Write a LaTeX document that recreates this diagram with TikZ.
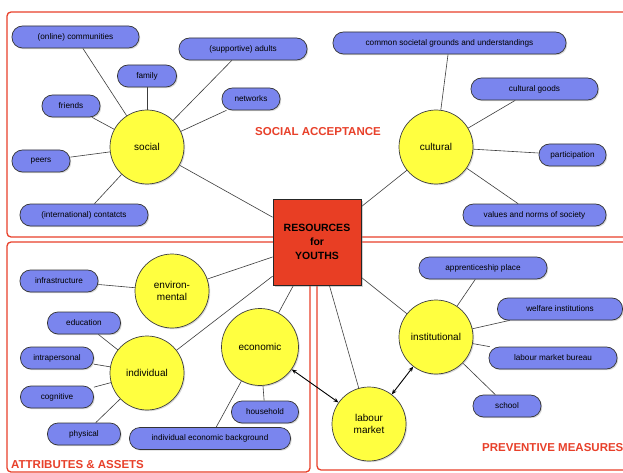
\documentclass[tikz,border=0pt]{standalone}
\usepackage{fontspec}
\setmainfont{Liberation Sans}
\usetikzlibrary{shadows,backgrounds,arrows.meta}
\definecolor{framered}{RGB}{232,64,42}
\definecolor{pillblue}{RGB}{122,133,238}
\definecolor{circyellow}{RGB}{255,255,64}
\definecolor{hubred}{RGB}{232,62,36}
\definecolor{edgegray}{RGB}{60,60,60}
\tikzset{
  pill/.style={draw=black!80, line width=0.7pt, fill=pillblue, rectangle, rounded corners=10.5pt,
    minimum height=22pt, inner sep=0pt, font=\fontsize{8.2}{9}\selectfont,
    drop shadow={shadow xshift=1.2pt, shadow yshift=-1.2pt, opacity=0.3}},
  topic/.style={draw=black!75, line width=0.7pt, fill=circyellow, circle, minimum size=74pt,
    inner sep=0pt, align=center, font=\fontsize{10}{12.5}\selectfont,
    drop shadow={shadow xshift=1.2pt, shadow yshift=-1.2pt, opacity=0.3}},
  hub/.style={draw=black!85, line width=0.8pt, fill=hubred, rectangle, minimum width=88pt,
    minimum height=86pt, inner sep=0pt, align=center, font=\bfseries\fontsize{10.5}{14}\selectfont,
    drop shadow={shadow xshift=1.5pt, shadow yshift=-1.5pt, opacity=0.35}},
  frame/.style={draw=framered, line width=1.3pt, rounded corners=4pt},
  sectlabel/.style={text=framered, font=\bfseries\fontsize{11.5}{13}\selectfont, inner sep=0pt},
  link/.style={draw=edgegray, line width=0.6pt},
  dlink/.style={draw=black, line width=0.9pt, {Stealth[length=5pt,width=4pt]}-{Stealth[length=5pt,width=4pt]}}
}
\begin{document}
\begin{tikzpicture}[x=1pt,y=-1pt]
\useasboundingbox (0,0) rectangle (623,473);
\clip (0,0) rectangle (623,473);

% hub
\node[hub] (hub) at (317,242) {RESOURCES\\for\\YOUTHS};

% topics
\node[topic] (social) at (147,147) {social};
\node[topic] (cultural) at (436,147) {cultural};
\node[topic] (env) at (172,291) {environ-\\mental};
\node[topic] (indiv) at (147,373) {individual};
\node[topic, minimum size=77pt] (econ) at (260,347) {economic};
\node[topic] (inst) at (436,337) {institutional};
\node[topic] (labour) at (369,424) {labour\\market};

% social pills
\node[pill, minimum width=127pt] (online) at (75.5,37) {(online) communities};
\node[pill, minimum width=59pt] (family) at (147,76) {family};
\node[pill, minimum width=128pt] (adults) at (243,49) {(supportive) adults};
\node[pill, minimum width=58pt] (friends) at (71,106) {friends};
\node[pill, minimum width=58pt] (networks) at (251,99) {networks};
\node[pill, minimum width=58pt] (peers) at (41,161) {peers};
\node[pill, minimum width=128pt] (intl) at (84,215) {(international) contatcts};

% cultural pills
\node[pill, minimum width=233pt] (common) at (449.5,43) {common societal grounds and understandings};
\node[pill, minimum width=127pt] (goods) at (534.5,89) {cultural goods};
\node[pill, minimum width=67pt] (partic) at (572.5,155) {participation};
\node[pill, minimum width=143pt] (values) at (534.5,215) {values and norms of society};

% attributes pills
\node[pill, minimum width=78pt] (infra) at (59,281) {infrastructure};
\node[pill, minimum width=73pt] (educ) at (84,323) {education};
\node[pill, minimum width=73pt] (intra) at (57,358) {intrapersonal};
\node[pill, minimum width=73pt] (cogn) at (57,397) {cognitive};
\node[pill, minimum width=73pt] (phys) at (84,434) {physical};
\node[pill, minimum width=67pt] (house) at (265,412) {household};
\node[pill, minimum width=161pt] (iebg) at (210,438.5) {individual economic background};

% preventive pills
\node[pill, minimum width=128pt] (appr) at (483,268) {apprenticeship place};
\node[pill, minimum width=125pt] (welfare) at (560,309) {welfare institutions};
\node[pill, minimum width=128pt] (bureau) at (553,358) {labour market bureau};
\node[pill, minimum width=68pt] (school) at (507,406) {school};

% section labels
\node[sectlabel, anchor=center] (lblsoc) at (318,132) {SOCIAL ACCEPTANCE};
\node[sectlabel, anchor=west] (lblatt) at (11,465) {ATTRIBUTES \& ASSETS};
\node[sectlabel, anchor=west] (lblprev) at (482,448) {PREVENTIVE MEASURES};

\begin{scope}[on background layer]
  \fill[white] (0,0) rectangle (623,473);
  % frames
  \draw[frame] (7,12) rectangle (650,237);
  \draw[frame] (7,242) rectangle (310,472);
  \draw[frame] (317,242) rectangle (650,470);
  % hub links
  \draw[link] (social) -- (hub);
  \draw[link] (cultural) -- (hub);
  \draw[link] (env) -- (hub);
  \draw[link] (indiv) -- (hub);
  \draw[link] (econ) -- (hub);
  \draw[link] (hub) -- (inst);
  \draw[link] (hub) -- (labour);
  % social
  \draw[link] (social) -- (online);
  \draw[link] (social) -- (family);
  \draw[link] (social) -- (adults);
  \draw[link] (social) -- (friends);
  \draw[link] (social) -- (networks);
  \draw[link] (social) -- (peers);
  \draw[link] (social) -- (intl);
  % cultural
  \draw[link] (cultural) -- (common);
  \draw[link] (cultural) -- (goods);
  \draw[link] (cultural) -- (partic);
  \draw[link] (cultural) -- (values);
  % attributes
  \draw[link] (env) -- (infra);
  \draw[link] (indiv) -- (educ);
  \draw[link] (indiv) -- (intra);
  \draw[link] (indiv) -- (cogn);
  \draw[link] (indiv) -- (phys);
  \draw[link] (econ) -- (house);
  \draw[link] (econ) -- (iebg);
  % preventive
  \draw[link] (inst) -- (appr);
  \draw[link] (inst) -- (welfare);
  \draw[link] (inst) -- (bureau);
  \draw[link] (inst) -- (school);
\end{scope}

% double arrows
\draw[dlink] (econ) -- (labour);
\draw[dlink] (labour) -- (inst);
\end{tikzpicture}
\end{document}
